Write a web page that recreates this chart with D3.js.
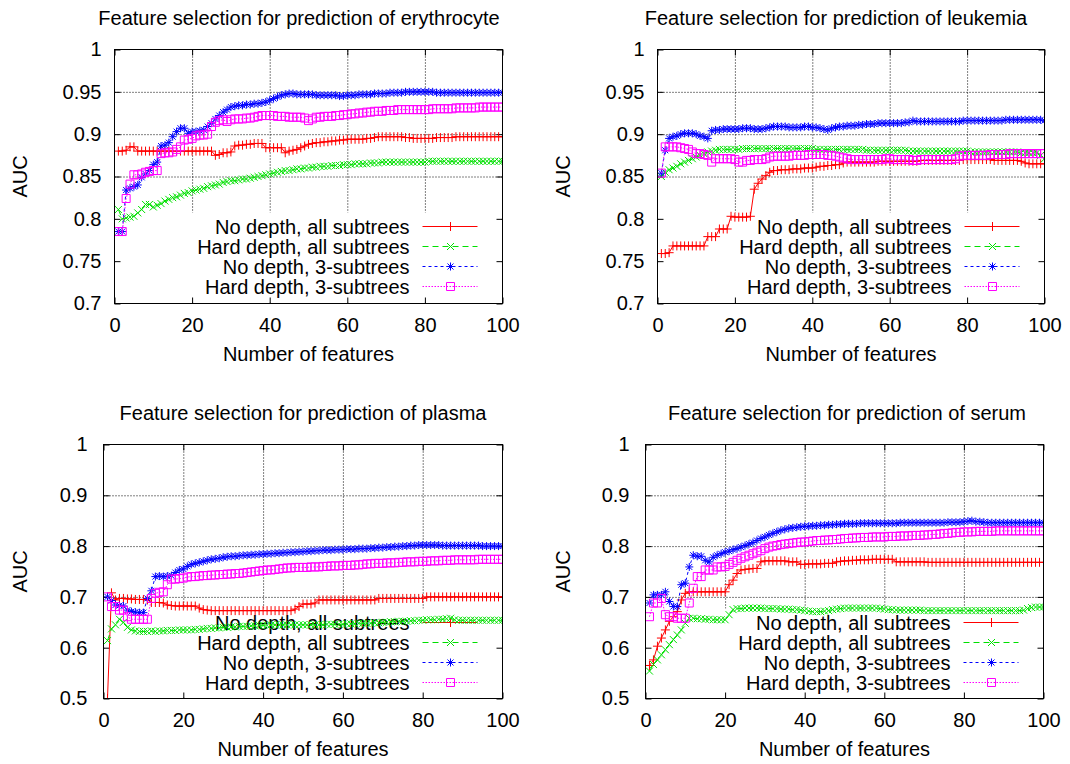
<!DOCTYPE html>
<html>
<head>
<meta charset="utf-8">
<script src="https://cdn.jsdelivr.net/npm/d3@7"></script>
<style>
    body { margin: 0; background: #fff; }
    svg { display: block; }
</style>
</head>
<body>
<div id="chart"></div>
<script>
const seriesLabels = ["No depth, all subtrees", "Hard depth, all subtrees", "No depth, 3-subtrees", "Hard depth, 3-subtrees"];
const panelTitles = [
    "Feature selection for prediction of erythrocyte",
    "Feature selection for prediction of leukemia",
    "Feature selection for prediction of plasma",
    "Feature selection for prediction of serum"
];
const xTicks = [0, 20, 40, 60, 80, 100];
const yTicksTop = [0.7, 0.75, 0.8, 0.85, 0.9, 0.95, 1];
const yTicksBottom = [0.5, 0.6, 0.7, 0.8, 0.9, 1];
const featureCounts = d3.range(1, 101);

// erythrocyte
const eryNoDepthAll = [
    0.880, 0.880, 0.881, 0.885, 0.885, 0.880, 0.880, 0.880, 0.880, 0.880,
    0.880, 0.880, 0.880, 0.880, 0.880, 0.880, 0.880, 0.880, 0.880, 0.880,
    0.880, 0.880, 0.880, 0.880, 0.880, 0.875, 0.876, 0.878, 0.878, 0.879,
    0.886, 0.887, 0.887, 0.888, 0.888, 0.889, 0.889, 0.889, 0.884, 0.884,
    0.884, 0.884, 0.884, 0.878, 0.880, 0.881, 0.882, 0.884, 0.886, 0.888,
    0.889, 0.890, 0.890, 0.891, 0.891, 0.892, 0.892, 0.893, 0.893, 0.894,
    0.894, 0.894, 0.894, 0.894, 0.895, 0.895, 0.896, 0.897, 0.897, 0.897,
    0.897, 0.897, 0.897, 0.897, 0.896, 0.896, 0.895, 0.895, 0.895, 0.895,
    0.895, 0.895, 0.896, 0.896, 0.896, 0.896, 0.896, 0.897, 0.897, 0.897,
    0.897, 0.897, 0.897, 0.897, 0.897, 0.897, 0.897, 0.897, 0.897, 0.897
];
const eryHardDepthAll = [
    0.811, 0.800, 0.801, 0.802, 0.803, 0.807, 0.811, 0.817, 0.817, 0.814,
    0.816, 0.818, 0.821, 0.823, 0.825, 0.826, 0.828, 0.830, 0.831, 0.833,
    0.834, 0.835, 0.836, 0.838, 0.839, 0.840, 0.841, 0.843, 0.844, 0.845,
    0.845, 0.846, 0.847, 0.847, 0.848, 0.849, 0.850, 0.851, 0.852, 0.853,
    0.854, 0.855, 0.856, 0.857, 0.857, 0.858, 0.859, 0.859, 0.860, 0.860,
    0.861, 0.861, 0.862, 0.862, 0.862, 0.863, 0.863, 0.863, 0.864, 0.864,
    0.864, 0.865, 0.865, 0.865, 0.865, 0.866, 0.866, 0.866, 0.867, 0.867,
    0.867, 0.867, 0.867, 0.867, 0.867, 0.867, 0.867, 0.867, 0.867, 0.867,
    0.868, 0.868, 0.868, 0.868, 0.868, 0.868, 0.868, 0.868, 0.868, 0.868,
    0.868, 0.868, 0.868, 0.868, 0.868, 0.868, 0.868, 0.868, 0.868, 0.868
];
const eryNoDepth3 = [
    0.785, 0.785, 0.834, 0.836, 0.838, 0.840, 0.849, 0.853, 0.857, 0.864,
    0.867, 0.886, 0.887, 0.890, 0.897, 0.903, 0.907, 0.907, 0.901, 0.903,
    0.903, 0.904, 0.905, 0.909, 0.913, 0.918, 0.922, 0.926, 0.929, 0.932,
    0.933, 0.934, 0.934, 0.935, 0.935, 0.936, 0.936, 0.937, 0.938, 0.940,
    0.942, 0.944, 0.946, 0.947, 0.948, 0.948, 0.947, 0.947, 0.947, 0.947,
    0.947, 0.946, 0.946, 0.946, 0.946, 0.946, 0.946, 0.945, 0.945, 0.946,
    0.946, 0.946, 0.947, 0.947, 0.947, 0.947, 0.948, 0.948, 0.948, 0.948,
    0.949, 0.949, 0.949, 0.949, 0.950, 0.950, 0.950, 0.950, 0.950, 0.950,
    0.950, 0.950, 0.949, 0.949, 0.949, 0.949, 0.949, 0.949, 0.949, 0.949,
    0.949, 0.949, 0.949, 0.949, 0.949, 0.949, 0.949, 0.949, 0.949, 0.949
];
const eryHardDepth3 = [
    0.785, 0.785, 0.824, 0.841, 0.852, 0.852, 0.853, 0.855, 0.856, 0.857,
    0.857, 0.877, 0.878, 0.878, 0.879, 0.882, 0.885, 0.893, 0.894, 0.895,
    0.898, 0.899, 0.899, 0.900, 0.909, 0.914, 0.916, 0.917, 0.915, 0.917,
    0.918, 0.918, 0.918, 0.919, 0.919, 0.920, 0.921, 0.922, 0.922, 0.922,
    0.922, 0.921, 0.921, 0.921, 0.920, 0.920, 0.920, 0.920, 0.919, 0.916,
    0.918, 0.920, 0.920, 0.921, 0.921, 0.921, 0.922, 0.922, 0.923, 0.923,
    0.924, 0.924, 0.925, 0.925, 0.926, 0.926, 0.927, 0.927, 0.927, 0.928,
    0.928, 0.928, 0.929, 0.929, 0.929, 0.929, 0.929, 0.929, 0.929, 0.929,
    0.929, 0.930, 0.930, 0.930, 0.930, 0.930, 0.930, 0.931, 0.931, 0.931,
    0.931, 0.931, 0.931, 0.932, 0.932, 0.932, 0.932, 0.932, 0.932, 0.932
];

// leukemia
const leuNoDepthAll = [
    0.759, 0.759, 0.760, 0.768, 0.768, 0.768, 0.768, 0.768, 0.768, 0.768,
    0.768, 0.768, 0.779, 0.779, 0.779, 0.788, 0.788, 0.788, 0.803, 0.802,
    0.802, 0.802, 0.802, 0.803, 0.835, 0.842, 0.847, 0.851, 0.855, 0.857,
    0.857, 0.858, 0.858, 0.858, 0.859, 0.859, 0.859, 0.860, 0.860, 0.860,
    0.861, 0.862, 0.862, 0.863, 0.863, 0.864, 0.864, 0.866, 0.867, 0.867,
    0.867, 0.867, 0.867, 0.867, 0.867, 0.867, 0.868, 0.868, 0.868, 0.868,
    0.868, 0.868, 0.868, 0.868, 0.868, 0.868, 0.868, 0.869, 0.869, 0.869,
    0.869, 0.869, 0.869, 0.869, 0.869, 0.869, 0.869, 0.869, 0.870, 0.870,
    0.870, 0.870, 0.870, 0.870, 0.870, 0.870, 0.869, 0.869, 0.869, 0.869,
    0.869, 0.869, 0.869, 0.868, 0.866, 0.865, 0.865, 0.865, 0.865, 0.865
];
const leuHardDepthAll = [
    0.850, 0.855, 0.858, 0.860, 0.862, 0.865, 0.867, 0.869, 0.871, 0.873,
    0.875, 0.877, 0.879, 0.880, 0.881, 0.882, 0.882, 0.882, 0.882, 0.882,
    0.882, 0.883, 0.883, 0.883, 0.883, 0.883, 0.883, 0.883, 0.883, 0.883,
    0.883, 0.883, 0.883, 0.883, 0.883, 0.883, 0.883, 0.883, 0.883, 0.883,
    0.882, 0.882, 0.882, 0.882, 0.882, 0.882, 0.882, 0.882, 0.882, 0.882,
    0.882, 0.882, 0.882, 0.881, 0.881, 0.881, 0.881, 0.881, 0.881, 0.881,
    0.881, 0.881, 0.881, 0.881, 0.880, 0.880, 0.880, 0.880, 0.880, 0.880,
    0.880, 0.880, 0.880, 0.880, 0.880, 0.880, 0.880, 0.880, 0.880, 0.880,
    0.879, 0.879, 0.879, 0.879, 0.879, 0.879, 0.879, 0.879, 0.879, 0.879,
    0.879, 0.879, 0.879, 0.878, 0.878, 0.878, 0.878, 0.878, 0.875, 0.871
];
const leuNoDepth3 = [
    0.854, 0.881, 0.895, 0.897, 0.898, 0.900, 0.901, 0.901, 0.901, 0.900,
    0.898, 0.897, 0.895, 0.904, 0.905, 0.905, 0.906, 0.906, 0.906, 0.906,
    0.906, 0.907, 0.907, 0.907, 0.906, 0.906, 0.906, 0.907, 0.908, 0.909,
    0.909, 0.909, 0.909, 0.908, 0.908, 0.908, 0.908, 0.909, 0.909, 0.908,
    0.908, 0.907, 0.906, 0.905, 0.907, 0.908, 0.909, 0.909, 0.910, 0.910,
    0.910, 0.911, 0.911, 0.912, 0.912, 0.912, 0.913, 0.913, 0.913, 0.913,
    0.913, 0.913, 0.913, 0.914, 0.914, 0.916, 0.915, 0.915, 0.915, 0.915,
    0.915, 0.915, 0.915, 0.915, 0.915, 0.915, 0.915, 0.915, 0.916, 0.916,
    0.916, 0.916, 0.916, 0.916, 0.916, 0.916, 0.916, 0.916, 0.916, 0.917,
    0.917, 0.917, 0.917, 0.917, 0.917, 0.917, 0.917, 0.917, 0.917, 0.916
];
const leuHardDepth3 = [
    0.854, 0.885, 0.885, 0.885, 0.885, 0.884, 0.883, 0.882, 0.879, 0.877,
    0.877, 0.876, 0.875, 0.867, 0.871, 0.871, 0.871, 0.871, 0.871, 0.870,
    0.867, 0.867, 0.869, 0.869, 0.870, 0.870, 0.870, 0.871, 0.873, 0.874,
    0.874, 0.874, 0.874, 0.874, 0.875, 0.875, 0.875, 0.875, 0.876, 0.876,
    0.876, 0.876, 0.876, 0.875, 0.875, 0.874, 0.873, 0.872, 0.871, 0.870,
    0.870, 0.870, 0.870, 0.870, 0.870, 0.870, 0.870, 0.870, 0.871, 0.871,
    0.870, 0.870, 0.870, 0.870, 0.870, 0.869, 0.869, 0.870, 0.870, 0.870,
    0.870, 0.870, 0.870, 0.870, 0.870, 0.870, 0.871, 0.874, 0.875, 0.875,
    0.875, 0.875, 0.875, 0.875, 0.875, 0.876, 0.876, 0.876, 0.876, 0.876,
    0.877, 0.877, 0.877, 0.877, 0.877, 0.877, 0.877, 0.877, 0.877, 0.877
];

// plasma
const plaNoDepthAll = [
    0.500, 0.708, 0.694, 0.697, 0.697, 0.696, 0.696, 0.695, 0.695, 0.695,
    0.694, 0.689, 0.689, 0.689, 0.688, 0.684, 0.683, 0.682, 0.682, 0.682,
    0.682, 0.682, 0.682, 0.678, 0.675, 0.674, 0.673, 0.673, 0.673, 0.673,
    0.673, 0.673, 0.673, 0.673, 0.673, 0.673, 0.673, 0.673, 0.673, 0.673,
    0.673, 0.673, 0.673, 0.673, 0.673, 0.673, 0.673, 0.676, 0.681, 0.686,
    0.686, 0.686, 0.688, 0.694, 0.694, 0.694, 0.694, 0.694, 0.694, 0.694,
    0.694, 0.694, 0.694, 0.694, 0.694, 0.694, 0.694, 0.694, 0.697, 0.697,
    0.697, 0.697, 0.697, 0.697, 0.697, 0.697, 0.697, 0.697, 0.697, 0.697,
    0.700, 0.700, 0.700, 0.700, 0.700, 0.700, 0.700, 0.700, 0.700, 0.700,
    0.700, 0.700, 0.700, 0.700, 0.700, 0.700, 0.700, 0.700, 0.700, 0.700
];
const plaHardDepthAll = [
    0.614, 0.637, 0.645, 0.656, 0.650, 0.640, 0.635, 0.633, 0.632, 0.632,
    0.632, 0.633, 0.632, 0.633, 0.633, 0.634, 0.634, 0.634, 0.635, 0.635,
    0.635, 0.635, 0.636, 0.636, 0.637, 0.638, 0.638, 0.639, 0.639, 0.640,
    0.640, 0.641, 0.641, 0.642, 0.642, 0.642, 0.643, 0.643, 0.644, 0.644,
    0.644, 0.645, 0.645, 0.645, 0.645, 0.645, 0.645, 0.645, 0.645, 0.645,
    0.645, 0.645, 0.645, 0.645, 0.645, 0.646, 0.646, 0.646, 0.646, 0.646,
    0.647, 0.647, 0.647, 0.648, 0.648, 0.648, 0.648, 0.649, 0.649, 0.650,
    0.650, 0.651, 0.651, 0.652, 0.652, 0.652, 0.653, 0.653, 0.654, 0.654,
    0.655, 0.655, 0.655, 0.656, 0.656, 0.657, 0.658, 0.655, 0.654, 0.654,
    0.654, 0.654, 0.654, 0.654, 0.654, 0.654, 0.654, 0.654, 0.654, 0.654
];
const plaNoDepth3 = [
    0.700, 0.693, 0.684, 0.683, 0.682, 0.674, 0.671, 0.670, 0.669, 0.669,
    0.697, 0.712, 0.740, 0.741, 0.740, 0.741, 0.742, 0.748, 0.753, 0.755,
    0.760, 0.764, 0.766, 0.768, 0.770, 0.772, 0.774, 0.775, 0.776, 0.778,
    0.779, 0.780, 0.780, 0.781, 0.782, 0.782, 0.783, 0.783, 0.784, 0.784,
    0.785, 0.785, 0.786, 0.786, 0.787, 0.787, 0.788, 0.788, 0.789, 0.789,
    0.790, 0.790, 0.791, 0.791, 0.792, 0.792, 0.792, 0.793, 0.793, 0.793,
    0.794, 0.794, 0.794, 0.795, 0.795, 0.795, 0.796, 0.796, 0.797, 0.797,
    0.798, 0.798, 0.799, 0.799, 0.800, 0.800, 0.801, 0.801, 0.802, 0.802,
    0.802, 0.802, 0.802, 0.802, 0.801, 0.801, 0.801, 0.801, 0.801, 0.801,
    0.801, 0.801, 0.801, 0.801, 0.800, 0.800, 0.800, 0.800, 0.800, 0.800
];
const plaHardDepth3 = [
    0.700, 0.681, 0.681, 0.674, 0.674, 0.661, 0.656, 0.656, 0.656, 0.656,
    0.656, 0.697, 0.707, 0.709, 0.710, 0.724, 0.735, 0.735, 0.736, 0.737,
    0.739, 0.740, 0.740, 0.741, 0.742, 0.742, 0.743, 0.743, 0.744, 0.744,
    0.745, 0.745, 0.746, 0.746, 0.747, 0.748, 0.749, 0.750, 0.751, 0.752,
    0.753, 0.753, 0.754, 0.755, 0.756, 0.757, 0.757, 0.758, 0.758, 0.758,
    0.758, 0.759, 0.759, 0.759, 0.760, 0.760, 0.761, 0.761, 0.761, 0.762,
    0.762, 0.762, 0.763, 0.763, 0.764, 0.765, 0.765, 0.766, 0.766, 0.766,
    0.767, 0.767, 0.767, 0.768, 0.768, 0.769, 0.769, 0.769, 0.770, 0.770,
    0.770, 0.771, 0.771, 0.771, 0.772, 0.772, 0.772, 0.773, 0.773, 0.773,
    0.773, 0.773, 0.773, 0.774, 0.774, 0.774, 0.774, 0.774, 0.774, 0.774
];

// serum
const serNoDepthAll = [
    0.565, 0.576, 0.603, 0.619, 0.635, 0.652, 0.661, 0.671, 0.694, 0.707,
    0.710, 0.710, 0.710, 0.710, 0.710, 0.710, 0.710, 0.710, 0.710, 0.710,
    0.724, 0.733, 0.746, 0.753, 0.754, 0.755, 0.756, 0.756, 0.769, 0.771,
    0.771, 0.771, 0.771, 0.771, 0.771, 0.769, 0.769, 0.769, 0.764, 0.764,
    0.765, 0.765, 0.765, 0.765, 0.766, 0.766, 0.766, 0.769, 0.770, 0.771,
    0.771, 0.772, 0.772, 0.773, 0.773, 0.773, 0.774, 0.774, 0.774, 0.774,
    0.774, 0.774, 0.769, 0.769, 0.769, 0.769, 0.769, 0.769, 0.769, 0.769,
    0.768, 0.768, 0.768, 0.768, 0.768, 0.768, 0.768, 0.768, 0.768, 0.768,
    0.768, 0.768, 0.768, 0.768, 0.768, 0.768, 0.768, 0.768, 0.768, 0.768,
    0.768, 0.768, 0.768, 0.768, 0.768, 0.768, 0.768, 0.768, 0.768, 0.768
];
const serHardDepthAll = [
    0.554, 0.567, 0.576, 0.586, 0.596, 0.606, 0.616, 0.625, 0.635, 0.648,
    0.658, 0.658, 0.657, 0.657, 0.656, 0.656, 0.655, 0.655, 0.655, 0.655,
    0.665, 0.675, 0.677, 0.677, 0.678, 0.678, 0.678, 0.678, 0.678, 0.677,
    0.677, 0.677, 0.677, 0.676, 0.676, 0.676, 0.675, 0.675, 0.674, 0.673,
    0.672, 0.671, 0.671, 0.671, 0.672, 0.673, 0.675, 0.676, 0.677, 0.678,
    0.678, 0.678, 0.678, 0.678, 0.678, 0.678, 0.678, 0.678, 0.677, 0.676,
    0.675, 0.675, 0.674, 0.674, 0.674, 0.674, 0.674, 0.674, 0.674, 0.673,
    0.673, 0.673, 0.673, 0.673, 0.673, 0.673, 0.673, 0.673, 0.673, 0.673,
    0.673, 0.673, 0.673, 0.673, 0.673, 0.673, 0.673, 0.673, 0.673, 0.673,
    0.673, 0.673, 0.673, 0.673, 0.674, 0.677, 0.679, 0.680, 0.680, 0.680
];
const serNoDepth3 = [
    0.688, 0.704, 0.704, 0.704, 0.710, 0.691, 0.681, 0.681, 0.724, 0.727,
    0.759, 0.782, 0.780, 0.780, 0.772, 0.769, 0.778, 0.782, 0.785, 0.788,
    0.790, 0.793, 0.795, 0.798, 0.801, 0.804, 0.807, 0.811, 0.815, 0.818,
    0.822, 0.825, 0.828, 0.831, 0.833, 0.835, 0.836, 0.837, 0.838, 0.839,
    0.839, 0.840, 0.840, 0.841, 0.841, 0.842, 0.842, 0.843, 0.843, 0.844,
    0.844, 0.844, 0.844, 0.845, 0.845, 0.845, 0.845, 0.845, 0.845, 0.845,
    0.845, 0.845, 0.845, 0.846, 0.846, 0.846, 0.846, 0.846, 0.846, 0.846,
    0.846, 0.846, 0.846, 0.846, 0.846, 0.847, 0.847, 0.847, 0.847, 0.848,
    0.849, 0.850, 0.848, 0.848, 0.847, 0.846, 0.846, 0.846, 0.846, 0.846,
    0.846, 0.846, 0.846, 0.846, 0.846, 0.846, 0.846, 0.846, 0.846, 0.846
];
const serHardDepth3 = [
    0.661, 0.688, 0.688, 0.697, 0.665, 0.661, 0.661, 0.658, 0.658, 0.658,
    0.688, 0.717, 0.740, 0.740, 0.753, 0.753, 0.753, 0.759, 0.759, 0.760,
    0.764, 0.768, 0.772, 0.776, 0.779, 0.782, 0.785, 0.788, 0.791, 0.795,
    0.798, 0.800, 0.801, 0.803, 0.804, 0.805, 0.806, 0.807, 0.808, 0.808,
    0.809, 0.810, 0.811, 0.811, 0.812, 0.812, 0.813, 0.813, 0.814, 0.815,
    0.815, 0.816, 0.816, 0.817, 0.817, 0.817, 0.818, 0.818, 0.818, 0.818,
    0.819, 0.819, 0.819, 0.820, 0.820, 0.820, 0.821, 0.821, 0.821, 0.822,
    0.822, 0.823, 0.823, 0.824, 0.825, 0.825, 0.826, 0.827, 0.827, 0.828,
    0.828, 0.828, 0.829, 0.829, 0.829, 0.829, 0.829, 0.830, 0.830, 0.830,
    0.830, 0.830, 0.830, 0.830, 0.830, 0.830, 0.830, 0.830, 0.830, 0.830
];

const chartApp = (() => {
    const WIDTH = 1070;
    const HEIGHT = 764;
    const FONT = '"Liberation Sans", Arial, Helvetica, sans-serif';

    // gnuplot-like line types: colour, dash, point symbol
    const styles = [
        { color: '#ff0000', dash: null, symbol: 'plus' },
        { color: '#00e000', dash: '6,4', symbol: 'cross' },
        { color: '#0000ff', dash: '3,3', symbol: 'star' },
        { color: '#ff00ff', dash: '1.5,1.5', symbol: 'square' }
    ];

    const symbolPath = (type) => {
        switch (type) {
            case 'plus': return 'M-4.5,0H4.5M0,-4.5V4.5';
            case 'cross': return 'M-3.5,-3.5L3.5,3.5M-3.5,3.5L3.5,-3.5';
            case 'star': return 'M-4,0H4M0,-4V4M-3,-3L3,3M-3,3L3,-3';
            default: return 'M-4,-4H4V4H-4Z';
        }
    };

    const panels = [
        {
            title: panelTitles[0], titleX: 299, yTicks: yTicksTop,
            series: [eryNoDepthAll, eryHardDepthAll, eryNoDepth3, eryHardDepth3],
            box: { left: 114.5, right: 502.5, top: 49.5, bottom: 303.5 },
            keyTop: 226.5, labelGap: 13, aucX: 27
        },
        {
            title: panelTitles[1], titleX: 836, yTicks: yTicksTop,
            series: [leuNoDepthAll, leuHardDepthAll, leuNoDepth3, leuHardDepth3],
            box: { left: 657.5, right: 1044.5, top: 49.5, bottom: 303.5 },
            keyTop: 226.5, labelGap: 13, aucX: 570
        },
        {
            title: panelTitles[2], titleX: 303, yTicks: yTicksBottom,
            series: [plaNoDepthAll, plaHardDepthAll, plaNoDepth3, plaHardDepth3],
            box: { left: 103.5, right: 502.5, top: 444.5, bottom: 698.5 },
            keyTop: 622.5, labelGap: 16, aucX: 27
        },
        {
            title: panelTitles[3], titleX: 847, yTicks: yTicksBottom,
            series: [serNoDepthAll, serHardDepthAll, serNoDepth3, serHardDepth3],
            box: { left: 645.5, right: 1043.5, top: 444.5, bottom: 698.5 },
            keyTop: 622.5, labelGap: 16, aucX: 570
        }
    ];

    const styleAxis = (sel) => {
        sel.select('.domain').remove();
        sel.attr('font-family', FONT).attr('font-size', 20);
        sel.selectAll('.tick line').attr('stroke', '#000');
        sel.selectAll('.tick text').attr('fill', '#000');
    };

    const drawPanel = (svg, panel, i) => {
        const { left, right, top, bottom } = panel.box;
        const x = d3.scaleLinear().domain([0, 100]).range([left, right]);
        const y = d3.scaleLinear().domain([panel.yTicks[0], 1]).range([bottom, top]);
        const g = svg.append('g').attr('class', `panel panel-${i}`);

        const clipId = `clip-${i}`;
        svg.append('defs').append('clipPath').attr('id', clipId)
            .append('rect')
            .attr('x', left).attr('y', top)
            .attr('width', right - left).attr('height', bottom - top);

        // dotted grid
        g.append('g')
            .attr('transform', `translate(0,${bottom})`)
            .call(d3.axisBottom(x).tickValues(xTicks.slice(1, -1)).tickSize(-(bottom - top)).tickFormat(''))
            .call(styleAxis)
            .selectAll('.tick line').attr('stroke-dasharray', '1,2');
        g.append('g')
            .attr('transform', `translate(${left},0)`)
            .call(d3.axisLeft(y).tickValues(panel.yTicks.slice(1, -1)).tickSize(-(right - left)).tickFormat(''))
            .call(styleAxis)
            .selectAll('.tick line').attr('stroke-dasharray', '1,2');

        // key area hides the grid
        const rowY = (k) => panel.keyTop + k * 20;
        g.append('rect')
            .attr('x', left + 1).attr('y', rowY(0) - 14)
            .attr('width', right - left - 2).attr('height', bottom - rowY(0) + 13)
            .attr('fill', '#fff');

        // inward tics on all four sides
        g.append('g')
            .attr('transform', `translate(${left},0)`)
            .call(d3.axisLeft(y).tickValues(panel.yTicks).tickSize(-6).tickPadding(panel.labelGap).tickFormat(d3.format('~g')))
            .call(styleAxis);
        g.append('g')
            .attr('transform', `translate(${right},0)`)
            .call(d3.axisRight(y).tickValues(panel.yTicks).tickSize(-6).tickFormat(''))
            .call(styleAxis);
        g.append('g')
            .attr('transform', `translate(0,${bottom})`)
            .call(d3.axisBottom(x).tickValues(xTicks).tickSize(-6).tickPadding(14).tickFormat(d3.format('d')))
            .call(styleAxis);
        g.append('g')
            .attr('transform', `translate(0,${top})`)
            .call(d3.axisTop(x).tickValues(xTicks).tickSize(-6).tickFormat(''))
            .call(styleAxis);

        const line = d3.line()
            .x((d, j) => x(featureCounts[j]))
            .y(d => y(d));

        panel.series.forEach((values, k) => {
            const st = styles[k];

            // key entry, drawn just before its curve as gnuplot does
            const key = g.append('g').attr('class', 'key-entry');
            key.append('text')
                .attr('x', right - 93).attr('y', rowY(k) + 7)
                .attr('text-anchor', 'end')
                .attr('font-family', FONT).attr('font-size', 20)
                .attr('fill', '#000')
                .text(seriesLabels[k]);
            key.append('path')
                .attr('d', `M${right - 80},${rowY(k)}H${right - 25}`)
                .style('stroke', st.color)
                .style('stroke-width', '1px')
                .style('stroke-dasharray', st.dash || 'none')
                .style('fill', 'none');
            key.append('path')
                .attr('transform', `translate(${right - 52},${rowY(k)})`)
                .attr('d', symbolPath(st.symbol))
                .style('fill', 'none')
                .style('stroke', st.color);

            // curve
            const sg = g.append('g').attr('clip-path', `url(#${clipId})`);
            sg.append('path')
                .datum(values)
                .attr('d', line)
                .attr('fill', 'none')
                .attr('stroke', st.color)
                .attr('stroke-width', 1)
                .attr('stroke-dasharray', st.dash);
            sg.selectAll('path.pt')
                .data(values)
                .join('path')
                .attr('class', 'pt')
                .attr('transform', (d, j) => `translate(${x(featureCounts[j])},${y(d)})`)
                .attr('d', symbolPath(st.symbol))
                .attr('fill', 'none')
                .attr('stroke', st.color);
        });

        // border
        g.append('rect')
            .attr('x', left).attr('y', top)
            .attr('width', right - left).attr('height', bottom - top)
            .attr('fill', 'none').attr('stroke', '#000');

        g.append('text')
            .attr('x', panel.titleX).attr('y', top - 25)
            .attr('text-anchor', 'middle')
            .attr('font-family', FONT).attr('font-size', 20)
            .text(panel.title);
        g.append('text')
            .attr('x', (left + right) / 2).attr('y', bottom + 57)
            .attr('text-anchor', 'middle')
            .attr('font-family', FONT).attr('font-size', 20)
            .text('Number of features');
        g.append('text')
            .attr('transform', `translate(${panel.aucX},${(top + bottom) / 2}) rotate(-90)`)
            .attr('text-anchor', 'middle')
            .attr('font-family', FONT).attr('font-size', 20)
            .text('AUC');
    };

    const init = () => {
        const svg = d3.select('#chart').append('svg')
            .attr('width', WIDTH)
            .attr('height', HEIGHT)
            .style('background', '#fff');

        panels.forEach((panel, i) => drawPanel(svg, panel, i));
    };

    return { init };
})();

document.addEventListener('DOMContentLoaded', chartApp.init);
</script>
</body>
</html>
